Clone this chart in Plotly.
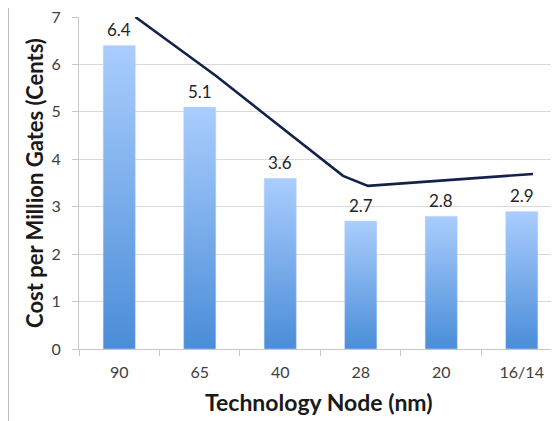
import plotly.graph_objects as go

# ---- data ----
categories = ["90", "65", "40", "28", "20", "16/14"]
cost_values = [6.4, 5.1, 3.6, 2.7, 2.8, 2.9]
# overlaid trend line (positions in category units, values in cents)
line_pos = [0.2, 1.2, 2.78, 3.09, 5.14]
line_vals = [7.0, 5.76, 3.65, 3.44, 3.69]
y_ticks = [0, 1, 2, 3, 4, 5, 6, 7]

FONT = "Lato"
BAR_TOP = "#aacdfd"
BAR_BOTTOM = "#4a8dd8"
BAR_HALF = 0.2

fig = go.Figure()

for i, v in enumerate(cost_values):
    xs = [i - BAR_HALF, i + BAR_HALF, i + BAR_HALF, i - BAR_HALF, i - BAR_HALF]
    ys = [0, 0, v, v, 0]
    fig.add_trace(go.Scatter(
        x=xs, y=ys, mode="lines", fill="toself",
        line=dict(width=0.6, color="rgba(200,220,250,0.8)"),
        fillgradient=dict(type="vertical",
                          colorscale=[[0, BAR_BOTTOM], [1, BAR_TOP]]),
        hoverinfo="skip", showlegend=False,
    ))

fig.add_trace(go.Scatter(
    x=line_pos, y=line_vals, mode="lines",
    line=dict(color="#13224a", width=2.6),
    showlegend=False, hoverinfo="skip", cliponaxis=False,
))

bar_labels = [
    dict(text=f"{v:.1f}", x=i, y=v, xref="x", yref="y",
         xanchor="center", yanchor="bottom", yshift=3, showarrow=False,
         font=dict(family=FONT, size=17, color="#262626"))
    for i, v in enumerate(cost_values)
]

fig.update_layout(
    width=551, height=413,
    margin=dict(l=71, r=0, t=9, b=72),
    paper_bgcolor="white", plot_bgcolor="white",
    font=dict(family=FONT, color="#404040"),
    xaxis=dict(
        range=[-0.5, 5.463],
        tickmode="array",
        tickvals=list(range(len(categories))),
        ticktext=categories,
        ticks="",
        ticklabelstandoff=9,
        tickfont=dict(family=FONT, size=16, color="#404040"),
        showgrid=False, zeroline=False,
        showline=True, linecolor="#c8c8c8", linewidth=1,
        minor=dict(ticks="outside", ticklen=6, tickcolor="#c8c8c8",
                   tick0=0.5, dtick=1, showgrid=False),
    ),
    yaxis=dict(
        range=[0, 7],
        tickmode="array", tickvals=y_ticks,
        ticks="outside", ticklen=6, tickcolor="#c8c8c8",
        ticklabelstandoff=8,
        ticklabeloverflow="allow",
        tickfont=dict(family=FONT, size=16, color="#404040"),
        showgrid=True, gridcolor="#d9d9d9", gridwidth=1,
        zeroline=False,
        showline=True, linecolor="#c8c8c8", linewidth=1,
    ),
    annotations=bar_labels + [
        dict(text="<b>Cost per Million Gates (Cents)</b>", textangle=-90,
             xref="paper", yref="paper", x=-0.094, y=0.5,
             xanchor="center", yanchor="middle", showarrow=False,
             font=dict(family=FONT, size=22, color="#1a1a1a")),
        dict(text="<b>Technology Node (nm)</b>",
             xref="paper", yref="paper", x=0.5, y=-0.16,
             xanchor="center", yanchor="middle", showarrow=False,
             font=dict(family=FONT, size=23, color="#1a1a1a")),
    ],
    shapes=[
        dict(type="line", xref="paper", yref="paper",
             x0=-0.1469, x1=-0.1469, y0=-0.3, y1=1.1,
             line=dict(color="#bfbfbf", width=1)),
    ],
)

fig.write_html("out.html")
